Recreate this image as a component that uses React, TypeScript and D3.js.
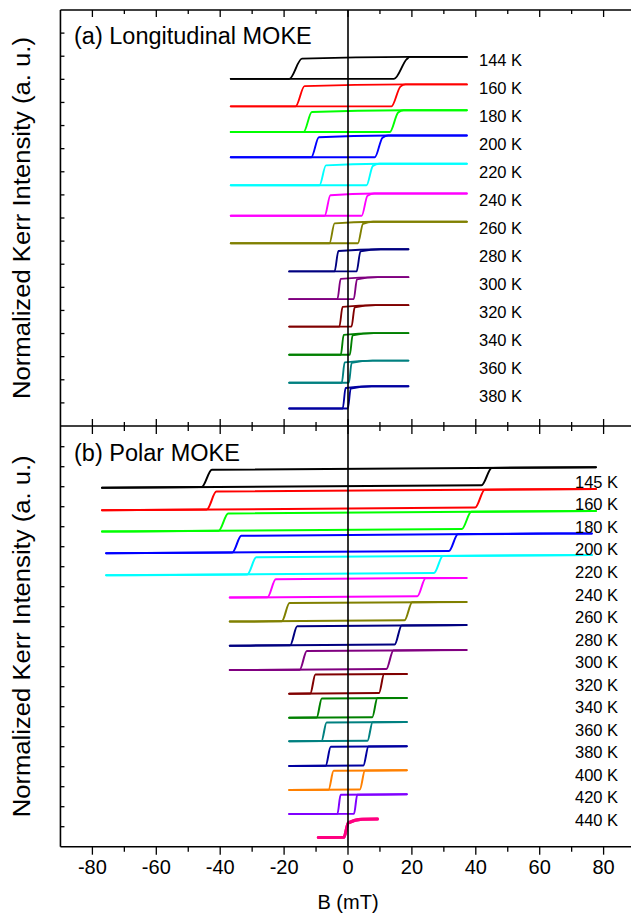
import React from 'react';
import * as d3 from 'd3';

const W = 631;
const H = 919;

// ---------- Panel (a) Longitudinal MOKE ----------
const tempsA = ['144 K', '160 K', '180 K', '200 K', '220 K', '240 K', '260 K', '280 K', '300 K', '320 K', '340 K', '360 K', '380 K'];
const colorsA = ['#000000', '#FF0000', '#00FF00', '#0000FF', '#00FFFF', '#FF00FF', '#808000', '#000080', '#800080', '#800000', '#008000', '#008080', '#0000A0'];
const lowA = [15.02, 13.83, 12.72, 11.63, 10.42, 9.10, 7.91, 6.69, 5.49, 4.30, 3.08, 1.87, 0.76];
const upA = [15.97, 14.78, 13.66, 12.57, 11.35, 10.06, 8.84, 7.65, 6.44, 5.23, 4.02, 2.83, 1.72];
const hcNegA = [-16.4, -15.0, -12.6, -10.3, -7.9, -6.4, -5.0, -3.6, -2.8, -2.2, -1.8, -1.5, -1.2];
const hcPosA = [16.4, 15.0, 14.4, 9.6, 6.8, 5.2, 3.9, 3.3, 2.3, 1.6, 1.0, 0.7, 0.4];
const widthA = [2.0, 1.4, 1.3, 1.2, 1.0, 0.9, 0.8, 0.6, 0.5, 0.5, 0.45, 0.45, 0.45];
const tailA = [3, 3, 3, 3, 3, 3, 4, 7, 7, 7, 7, 7, 7];
const xMinA = [-36.7, -36.7, -36.7, -36.7, -36.7, -36.7, -36.7, -18.4, -18.4, -18.4, -18.4, -18.4, -18.4];
const xMaxA = [37.2, 37.2, 37.2, 37.2, 37.2, 37.2, 37.2, 18.9, 18.9, 18.9, 18.9, 18.9, 18.9];
const labelYA = [15.84, 14.63, 13.42, 12.21, 11.0, 9.79, 8.58, 7.37, 6.15, 4.94, 3.73, 2.52, 1.31];

// ---------- Panel (b) Polar MOKE ----------
const tempsB = ['145 K', '160 K', '180 K', '200 K', '220 K', '240 K', '260 K', '280 K', '300 K', '320 K', '340 K', '360 K', '380 K', '400 K', '420 K', '440 K'];
const colorsB = ['#000000', '#FF0000', '#00FF00', '#0000FF', '#00FFFF', '#FF00FF', '#808000', '#000080', '#800080', '#800000', '#008000', '#008080', '#0000A0', '#FF8000', '#8000FF', '#FF0080'];
const lowB = [18.03, 16.91, 15.84, 14.75, 13.65, 12.5, 11.3, 10.09, 8.87, 7.67, 6.47, 5.29, 4.05, 2.85, 1.65, 0.47];
const upB = [18.89, 17.8, 16.7, 15.58, 14.5, 13.4, 12.2, 11.04, 9.8, 8.62, 7.42, 6.22, 5.0, 3.8, 2.6, 1.37];
const hcNegB = [-44.2, -42.7, -39.0, -34.8, -30.1, -23.9, -19.5, -17.0, -14.0, -11.0, -9.0, -7.5, -6.2, -5.3, -2.8, -0.6];
const hcPosB = [43.4, 41.3, 37.1, 33.0, 28.3, 23.0, 18.9, 15.7, 13.1, 10.5, 8.4, 6.9, 5.6, 4.5, 2.4, -0.6];
const widthB = [1.6, 1.5, 1.5, 1.4, 1.4, 1.3, 1.2, 1.1, 1.1, 0.8, 0.8, 0.8, 0.8, 0.8, 0.5, 0.7];
const kneeB = [0, 0, 0, 0, 0, 0, 0, 0, 0, 0, 0, 0, 0, 0, 0, 0.2];
const tailB = [0, 0, 0, 0, 0, 0, 0, 0, 0, 0, 0, 0, 0, 0, 0, 5];
const xMinB = [-77, -77, -77, -75.7, -75.7, -37, -37, -37, -37, -18.4, -18.4, -18.4, -18.4, -18.4, -18.4, -9.3];
const xMaxB = [77.6, 77.6, 77.6, 76.3, 76.3, 37.1, 37.1, 37.1, 37.1, 18.4, 18.4, 18.4, 18.4, 18.4, 18.4, 9.2];
const labelYB = [18.25, 17.12, 15.99, 14.87, 13.74, 12.61, 11.49, 10.36, 9.23, 8.1, 6.98, 5.85, 4.72, 3.6, 2.47, 1.34];

const xMajor = [-80, -60, -40, -20, 0, 20, 40, 60, 80];
const xMinor = [-70, -50, -30, -10, 10, 30, 50, 70];
const yTicksA = d3.range(1, 18);
const yTicksB = d3.range(1, 21);

const FONT = '"Liberation Sans", Arial, sans-serif';

type P = [number, number];

function buildBranches(L: number, U: number, hn: number, hp: number, w: number, xmin: number, xmax: number, kU: number, kL: number, tail: number, tilt: number): P[][] {
  const amp = U - L;
  const mergeX = Math.min(hp + tail, xmax - 0.5);
  const upper: P[] = [[xmin, L], [hn - w, L], [hn + w, U - kU * amp]];
  if (kU > 0 && mergeX > hn + w + 0.1) upper.push([mergeX, U]);
  upper.push([xmax, U]);
  const lower: P[] = [[xmin, L], [hp - w, L], [hp + w, U - kL * amp]];
  if (kL > 0 && mergeX > hp + w + 0.1) lower.push([mergeX, U]);
  lower.push([xmax, U]);
  const t = (pts: P[]) => pts.map(([a, b]) => [a, b + tilt * a] as P);
  return [t(upper), t(lower)];
}

export default function App() {
  const x = d3.scaleLinear().domain([-90, 90]).range([60.45, 635.55]);
  const yA = d3.scaleLinear().domain([0, 18]).range([426, 10]);
  const yB = d3.scaleLinear().domain([0, 21.035]).range([846.7, 426]);
  const left = x(-90);
  const x0 = x(0);

  const lineA = d3.line<P>().x((d) => x(d[0])).y((d) => yA(d[1])).curve(d3.curveMonotoneX);
  const lineB = d3.line<P>().x((d) => x(d[0])).y((d) => yB(d[1])).curve(d3.curveMonotoneX);

  const topY = yA(18);
  const midY = yA(0);
  const botY = yB(0);

  return (
    <div style={{ position: 'absolute', left: 0, top: 0 }}>
      <svg width={W} height={H} viewBox={`0 0 ${W} ${H}`} style={{ display: 'block', background: '#fff' }}>
        <rect x={0} y={0} width={W} height={H} fill="#fff" />
        {/* loops panel a */}
        <g fill="none" strokeWidth={1.9} strokeLinejoin="round" strokeLinecap="round">
          {tempsA.map((t, i) =>
            buildBranches(lowA[i], upA[i], hcNegA[i], hcPosA[i], widthA[i], xMinA[i], xMaxA[i], 0.08, 0.1, tailA[i], 0).map((br, j) => (
              <path key={t + j} d={lineA(br) || ''} stroke={colorsA[i]} />
            ))
          )}
        </g>
        {/* loops panel b */}
        <g fill="none" strokeLinejoin="round" strokeLinecap="round">
          {tempsB.map((t, i) =>
            buildBranches(lowB[i], upB[i], hcNegB[i], hcPosB[i], widthB[i], xMinB[i], xMaxB[i], kneeB[i], kneeB[i], tailB[i], 0.0011).map((br, j) => (
              <path key={t + j} d={lineB(br) || ''} stroke={colorsB[i]} strokeWidth={i === tempsB.length - 1 ? 3 : 2} />
            ))
          )}
        </g>

        {/* zero line */}
        <line x1={x0} x2={x0} y1={topY} y2={botY} stroke="#000" strokeWidth={1.6} />

        {/* frame */}
        <g stroke="#000" strokeWidth={1.6}>
          <line x1={left} x2={W} y1={topY} y2={topY} />
          <line x1={left} x2={W} y1={midY} y2={midY} />
          <line x1={left} x2={W} y1={botY} y2={botY} />
          <line x1={left} x2={left} y1={topY} y2={botY} />
        </g>

        {/* x ticks */}
        <g stroke="#000" strokeWidth={1.3}>
          {xMajor.map((v) => (
            <g key={'M' + v}>
              <line x1={x(v)} x2={x(v)} y1={topY} y2={topY + 7} />
              <line x1={x(v)} x2={x(v)} y1={midY} y2={midY - 7} />
              <line x1={x(v)} x2={x(v)} y1={midY} y2={midY + 8} />
              <line x1={x(v)} x2={x(v)} y1={botY} y2={botY + 8} />
            </g>
          ))}
          {xMinor.map((v) => (
            <g key={'m' + v}>
              <line x1={x(v)} x2={x(v)} y1={topY} y2={topY + 4} />
              <line x1={x(v)} x2={x(v)} y1={midY} y2={midY - 4} />
              <line x1={x(v)} x2={x(v)} y1={midY} y2={midY + 5} />
              <line x1={x(v)} x2={x(v)} y1={botY} y2={botY + 5} />
            </g>
          ))}
          {yTicksA.map((v) => (
            <line key={'ya' + v} x1={left} x2={left + 4} y1={yA(v)} y2={yA(v)} />
          ))}
          {yTicksB.map((v) => (
            <line key={'yb' + v} x1={left} x2={left + 4} y1={yB(v)} y2={yB(v)} />
          ))}
        </g>

        {/* x tick labels */}
        <g fontFamily={FONT} fontSize={20} textAnchor="middle" fill="#000">
          {xMajor.map((v) => (
            <text key={'l' + v} x={x(v)} y={874}>{v}</text>
          ))}
          <text x={x0} y={909}>B (mT)</text>
        </g>

        {/* y labels */}
        <g fontFamily={FONT} fontSize={23} textAnchor="middle" fill="#000">
          <text transform={`translate(30, ${(topY + midY) / 2}) rotate(-90)`} textLength={362} lengthAdjust="spacingAndGlyphs">Normalized Kerr Intensity (a. u.)</text>
          <text transform={`translate(30, ${(midY + botY) / 2}) rotate(-90)`} textLength={362} lengthAdjust="spacingAndGlyphs">Normalized Kerr Intensity (a. u.)</text>
        </g>

        {/* titles */}
        <g fontFamily={FONT} fontSize={23.5} fill="#000">
          <text x={74} y={44}>(a) Longitudinal MOKE</text>
          <text x={74} y={461}>(b) Polar MOKE</text>
        </g>

        {/* temperature labels */}
        <g fontFamily={FONT} fontSize={16.5} fill="#000">
          {tempsA.map((t, i) => (
            <text key={t} x={479} y={yA(labelYA[i]) + 6}>{t}</text>
          ))}
          {tempsB.map((t, i) => (
            <text key={t} x={575} y={yB(labelYB[i]) + 6}>{t}</text>
          ))}
        </g>
      </svg>
    </div>
  );
}
